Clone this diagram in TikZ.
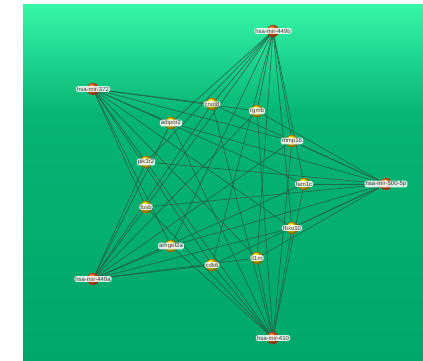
\documentclass[tikz,border=0pt]{standalone}
\usepackage{fontspec}
\setsansfont{Liberation Sans}
\pgfdeclarelayer{bg}
\pgfdeclarelayer{edges}
\pgfsetlayers{bg,edges,main}
\begin{document}
\begin{tikzpicture}[x=1pt,y=-1pt,
  mir/.style={circle,minimum size=12pt,inner sep=0pt,draw=red!50!black!70,line width=0.3pt,ball color=orange!80!red},
  gene/.style={circle,minimum size=12pt,inner sep=0pt,draw=orange!70!black,line width=0.3pt,ball color=yellow!90!orange},
  lab/.style={fill=white,fill opacity=0.85,text opacity=1,rounded corners=1.5pt,inner xsep=1pt,inner ysep=0.6pt,font=\sffamily\fontsize{6}{6.5}\selectfont,text=black!80},
  edge/.style={draw=edgec,line width=0.7pt,opacity=0.85}]
\definecolor{gtop}{HTML}{36F5A7}
\definecolor{gmid}{HTML}{06B473}
\definecolor{gbot}{HTML}{00A76A}
\definecolor{edgec}{HTML}{245E45}
\useasboundingbox (0,0) rectangle (423,361);
\begin{pgfonlayer}{bg}
\fill[white] (0,0) rectangle (423,361);
\shade[top color=gtop,bottom color=gmid] (23,5) rectangle (423,115);
\shade[top color=gmid,bottom color=gbot] (23,115) rectangle (423,361);
\end{pgfonlayer}
% nodes
\node[mir] (m449b) at (273,31) {};
\node[mir] (m372) at (93,89) {};
\node[mir] (m500) at (386,184) {};
\node[mir] (m449a) at (93,279) {};
\node[mir] (m410) at (273,338) {};
\node[gene] (cnot8) at (212,104) {};
\node[gene] (rgmb) at (257,111) {};
\node[gene] (adipor2) at (171,123) {};
\node[gene] (mmp16) at (292,141) {};
\node[gene] (pik3r2) at (146,162) {};
\node[gene] (fam1c) at (304,184) {};
\node[gene] (fosb) at (146,207) {};
\node[gene] (fbxo10) at (292,228) {};
\node[gene] (arhgef2a) at (171,246) {};
\node[gene] (il1rn) at (257,258) {};
\node[gene] (cdk6) at (212,265) {};
% edges
\begin{pgfonlayer}{edges}
\foreach \m in {m449b,m372,m500,m449a,m410}{
  \foreach \g in {cnot8,rgmb,adipor2,mmp16,pik3r2,fam1c,fosb,fbxo10,arhgef2a,il1rn,cdk6}{
    \draw[edge] (\m.center) -- (\g.center);
  }
}
\end{pgfonlayer}
% labels
\node[lab] (l449b) at (m449b) {hsa-mir-449b};
\node[lab] (l372) at (m372) {hsa-mir-372};
\node[lab] (l500) at (m500) {hsa-mir-500-5p};
\node[lab] (l449a) at (m449a) {hsa-mir-449a};
\node[lab] (l410) at (m410) {hsa-mir-410};
\node[lab] (lcnot8) at (cnot8) {cnot8};
\node[lab] (lrgmb) at (rgmb) {rgmb};
\node[lab] (ladipor2) at (adipor2) {adipor2};
\node[lab] (lmmp16) at (mmp16) {mmp16};
\node[lab] (lpik3r2) at (pik3r2) {pik3r2};
\node[lab] (lfam1c) at (fam1c) {fam1c};
\node[lab] (lfosb) at (fosb) {fosb};
\node[lab] (lfbxo10) at (fbxo10) {fbxo10};
\node[lab] (larhgef2a) at (arhgef2a) {arhgef2a};
\node[lab] (lil1rn) at (il1rn) {il1rn};
\node[lab] (lcdk6) at (cdk6) {cdk6};
\end{tikzpicture}
\end{document}
